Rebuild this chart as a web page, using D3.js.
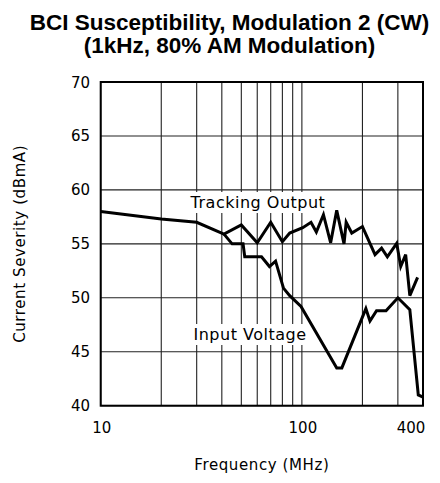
<!DOCTYPE html>
<html>
<head>
<meta charset="utf-8">
<script src="https://cdn.jsdelivr.net/npm/d3@7"></script>
<style>
  html, body { margin: 0; padding: 0; background: #fff; }
  svg { display: block; }
  .title { font-family: "Liberation Sans", Arial, sans-serif; font-weight: bold; font-size: 22.5px; fill: #000; }
  .lbl { font-family: "DejaVu Sans", sans-serif; fill: #000; }
</style>
</head>
<body>
<svg id="chart" width="440" height="483"></svg>
<script>
// Frequency sweep (MHz) and measured current severity (dBmA)
const trackingFreq  = [10, 20, 30, 41, 50, 60, 70, 80, 87, 101, 111, 118, 128, 139, 149, 162, 166, 177, 200, 231, 249, 266, 296, 310, 328, 344, 376];
const trackingLevel = [58.0, 57.3, 57.0, 55.9, 56.75, 55.1, 57.0, 55.2, 56.0, 56.5, 57.0, 56.1, 57.7, 55.1, 58.1, 55.0, 57.0, 56.0, 56.6, 54.0, 54.6, 53.8, 55.05, 52.9, 54.0, 50.2, 51.9];

const inputFreq  = [41, 45, 51, 52, 63, 69, 74, 81, 87, 99, 149, 158, 208, 218, 235, 262, 300, 344, 379, 400];
const inputLevel = [55.9, 55.0, 55.0, 53.8, 53.8, 52.9, 53.4, 50.9, 50.2, 49.2, 43.5, 43.5, 49.0, 47.85, 48.8, 48.8, 50.0, 48.9, 41.0, 40.8];

const xGrid = [10, 20, 30, 40, 50, 60, 70, 80, 90, 100, 200, 300, 400];
const xTickLabels = [10, 100, 400];
const yTicks = [40, 45, 50, 55, 60, 65, 70];

const titleLines = ["BCI Susceptibility, Modulation 2 (CW)", "(1kHz, 80% AM Modulation)"];

const svg = d3.select("#chart");
const plot = { left: 100.7, right: 423, top: 82, bottom: 405.7 };

const x = d3.scaleLog().domain([10, 400]).range([plot.left, plot.right]);
const y = d3.scaleLinear().domain([40, 70]).range([plot.bottom, plot.top]);

// Title
svg.selectAll("text.title").data(titleLines).join("text")
  .attr("class", "title")
  .attr("x", 229.5)
  .attr("y", (d, i) => 30 + i * 23)
  .attr("text-anchor", "middle")
  .text(d => d);

// Grid
const grid = svg.append("g").attr("stroke", "#222").attr("stroke-width", 1.1);
grid.selectAll("line.v").data(xGrid).join("line")
  .attr("x1", d => x(d)).attr("x2", d => x(d))
  .attr("y1", plot.top).attr("y2", plot.bottom);
grid.selectAll("line.h").data(yTicks).join("line")
  .attr("x1", plot.left).attr("x2", plot.right)
  .attr("y1", d => y(d)).attr("y2", d => y(d));

// Frame
svg.append("rect")
  .attr("x", plot.left).attr("y", plot.top)
  .attr("width", plot.right - plot.left).attr("height", plot.bottom - plot.top)
  .attr("fill", "none").attr("stroke", "#000").attr("stroke-width", 2);

// Y tick labels
svg.selectAll("text.ytick").data(yTicks).join("text")
  .attr("class", "lbl")
  .attr("x", 90)
  .attr("y", d => y(d) + 5.5)
  .attr("text-anchor", "end")
  .attr("font-size", 15)
  .text(d => d);

// X tick labels
svg.selectAll("text.xtick").data(xTickLabels).join("text")
  .attr("class", "lbl")
  .attr("x", d => d === 400 ? x(d) - 12 : x(d) + 1)
  .attr("y", 433)
  .attr("text-anchor", "middle")
  .attr("font-size", 15)
  .text(d => d);

// Axis titles
svg.append("text").attr("class", "lbl")
  .attr("x", (plot.left + plot.right) / 2).attr("y", 470)
  .attr("text-anchor", "middle").attr("font-size", 15)
  .attr("letter-spacing", 0.6)
  .text("Frequency (MHz)");

svg.append("text").attr("class", "lbl")
  .attr("transform", `translate(25,${(plot.top + plot.bottom) / 2}) rotate(-90)`)
  .attr("text-anchor", "middle").attr("font-size", 15)
  .attr("letter-spacing", 0.6)
  .text("Current Severity (dBmA)");

// Series labels on knocked-out backgrounds
const seriesLabels = [
  { text: "Tracking Output", x: 258, y: 208 },
  { text: "Input Voltage", x: 250, y: 340 }
];
seriesLabels.forEach(l => {
  const g = svg.append("g");
  const t = g.append("text").attr("class", "lbl")
    .attr("x", l.x).attr("y", l.y)
    .attr("text-anchor", "middle").attr("font-size", 16)
    .attr("letter-spacing", 0.5)
    .text(l.text);
  const bb = t.node().getBBox();
  g.insert("rect", "text")
    .attr("x", bb.x - 2).attr("y", bb.y - 1)
    .attr("width", bb.width + 4).attr("height", bb.height + 2)
    .attr("fill", "#fff");
});

// Data lines
const line = d3.line().x(d => x(d[0])).y(d => y(d[1]));
const series = [
  d3.zip(trackingFreq, trackingLevel),
  d3.zip(inputFreq, inputLevel)
];
svg.selectAll("path.series").data(series).join("path")
  .attr("class", "series")
  .attr("d", line)
  .attr("fill", "none")
  .attr("stroke", "#000")
  .attr("stroke-width", 3)
  .attr("stroke-linejoin", "miter")
  .attr("stroke-miterlimit", 4);
</script>
</body>
</html>
